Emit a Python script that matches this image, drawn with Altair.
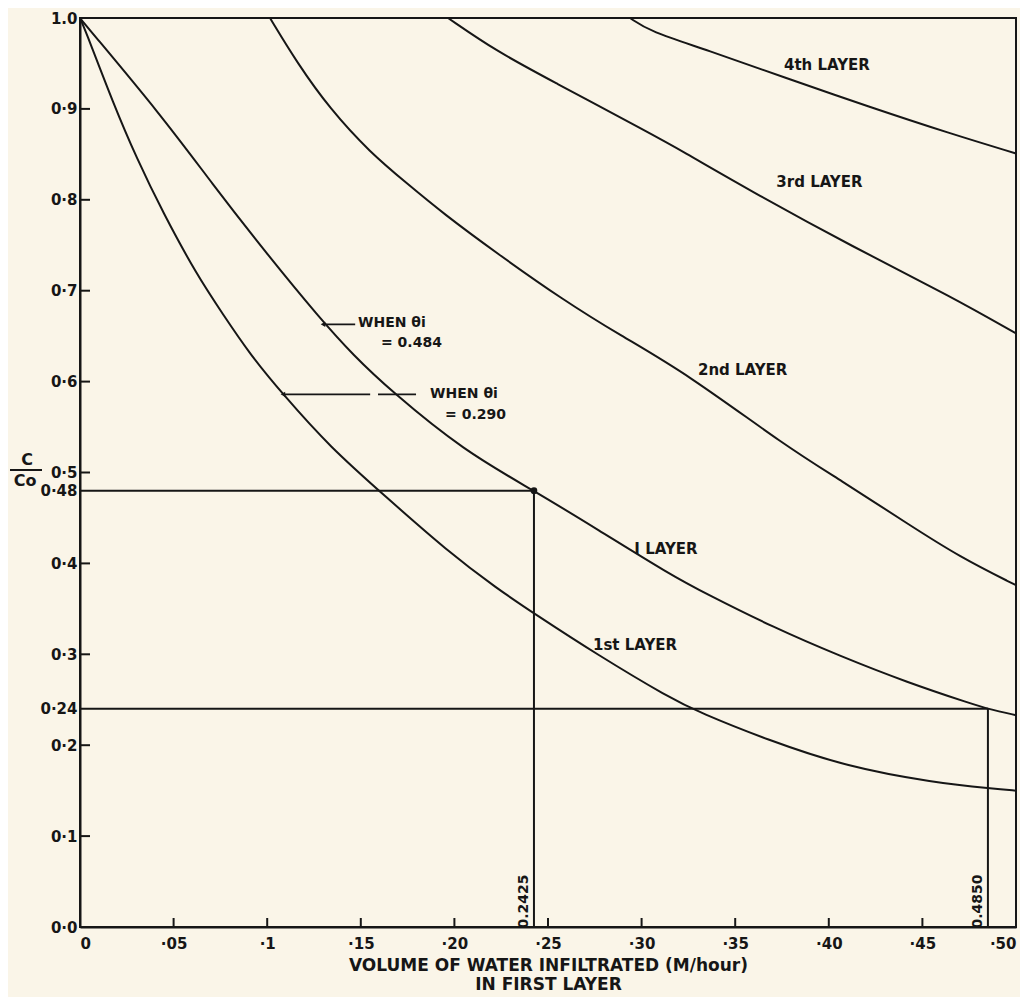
import json
import altair as alt
import pandas as pd

INK = "#161616"
BG = "#FAF5E8"
FONT = "DejaVu Sans"

# ---------------- data ----------------
layer1_x = [0, 0.0043, 0.0176, 0.0304, 0.0443, 0.0625, 0.0764, 0.0908, 0.1084, 0.1335, 0.163,
            0.196, 0.223, 0.2425, 0.276, 0.315, 0.331, 0.367, 0.410, 0.456, 0.488, 0.5]
layer1_y = [1.0, 0.979, 0.907, 0.845, 0.786, 0.717, 0.674, 0.630, 0.586, 0.528, 0.474,
            0.414, 0.372, 0.345, 0.300, 0.252, 0.236, 0.206, 0.176, 0.159, 0.152, 0.15]

layerI_x = [0, 0.0027, 0.0438, 0.0705, 0.100, 0.128, 0.146, 0.166, 0.205, 0.2425, 0.276,
            0.315, 0.335, 0.370, 0.406, 0.442, 0.477, 0.485, 0.5]
layerI_y = [1.0, 0.993, 0.892, 0.818, 0.740, 0.670, 0.629, 0.590, 0.524, 0.48, 0.438,
            0.388, 0.366, 0.330, 0.298, 0.269, 0.245, 0.24, 0.233]

layer2_x = [0.1015, 0.1159, 0.1335, 0.155, 0.1747, 0.194, 0.2228, 0.258, 0.2885, 0.324,
            0.3777, 0.406, 0.4418, 0.470, 0.5]
layer2_y = [1.0, 0.951, 0.900, 0.852, 0.818, 0.785, 0.741, 0.690, 0.651, 0.609,
            0.528, 0.492, 0.444, 0.407, 0.376]

layer3_x = [0.1966, 0.2228, 0.251, 0.3045, 0.3205, 0.358, 0.413, 0.466, 0.5]
layer3_y = [1.0, 0.963, 0.932, 0.873, 0.855, 0.810, 0.748, 0.693, 0.653]

layer4_x = [0.2938, 0.3045, 0.335, 0.3755, 0.422, 0.4647, 0.5]
layer4_y = [1.0, 0.985, 0.965, 0.935, 0.902, 0.873, 0.851]

x_ticks = [0, 0.05, 0.1, 0.15, 0.2, 0.25, 0.3, 0.35, 0.4, 0.45, 0.5]
x_tick_labels = ["0", "·05", "·1", "·15", "·20", "·25", "·30", "·35", "·40", "·45", "·50"]
y_ticks = [0, 0.1, 0.2, 0.24, 0.3, 0.4, 0.48, 0.5, 0.6, 0.7, 0.8, 0.9, 1.0]
y_tick_labels = ["0·0", "0·1", "0·2", "0·24", "0·3", "0·4", "0·48", "0·5", "0·6", "0·7", "0·8", "0·9", "1.0"]
x_inner_ticks = [0.05, 0.1, 0.15, 0.2, 0.25, 0.3, 0.35, 0.4, 0.45]
y_inner_ticks = [0.1, 0.2, 0.3, 0.4, 0.5, 0.6, 0.7, 0.8, 0.9]

# guide lines: (x, x2, y, y2)
guide_x = [0, 0.2425, 0, 0.485]
guide_x2 = [0.2425, 0.2425, 0.485, 0.485]
guide_y = [0.48, 0, 0.24, 0]
guide_y2 = [0.48, 0.48, 0.24, 0.24]
marked_x = [0.2425]
marked_y = [0.48]

layer_labels = ["4th LAYER", "3rd LAYER", "2nd LAYER", "I LAYER", "1st LAYER"]
layer_label_x = [0.399, 0.395, 0.354, 0.313, 0.2965]
layer_label_y = [0.948, 0.820, 0.613, 0.416, 0.310]

note_text = ["WHEN  θi", "= 0.484", "WHEN  θi", "= 0.290"]
note_x = [0.1485, 0.1608, 0.187, 0.195]
note_y = [0.6645, 0.6425, 0.586, 0.563]

arrow_x = [0.1298, 0.1084, 0.1592]
arrow_x2 = [0.147, 0.155, 0.1795]
arrow_y = [0.663, 0.586, 0.586]
arrow_tip_x = [0.1298, 0.1084]
arrow_tip_y = [0.663, 0.586]

vert_text = ["0.2425", "0.4850"]
vert_x = [0.2425, 0.485]
vert_y = [0.028, 0.028]

# ---------------- tables ----------------
curves = pd.concat([
    pd.DataFrame({"x": layer1_x, "y": layer1_y, "layer": "1st"}),
    pd.DataFrame({"x": layerI_x, "y": layerI_y, "layer": "I"}),
    pd.DataFrame({"x": layer2_x, "y": layer2_y, "layer": "2nd"}),
    pd.DataFrame({"x": layer3_x, "y": layer3_y, "layer": "3rd"}),
    pd.DataFrame({"x": layer4_x, "y": layer4_y, "layer": "4th"}),
])

x_expr = f"{json.dumps(x_tick_labels, ensure_ascii=False)}[round(datum.value*20)]"
y_expr = (f"{json.dumps(y_tick_labels, ensure_ascii=False)}"
          f"[indexof({json.dumps([round(v * 100) for v in y_ticks])}, round(datum.value*100))]")

x_axis = alt.Axis(values=x_ticks, labelExpr=x_expr, tickSize=0, grid=False,
                  domainColor=INK, domainWidth=2, labelColor=INK, labelFont=FONT,
                  labelFontSize=15, labelFontWeight="bold", labelPadding=9,
                  title=["VOLUME OF WATER INFILTRATED (M/hour)", "IN FIRST LAYER"],
                  titleFont=FONT, titleFontSize=17, titleFontWeight="bold",
                  titleColor=INK, titlePadding=6, titleLineHeight=19,
                  labelOverlap=False)
y_axis = alt.Axis(values=y_ticks, labelExpr=y_expr, tickSize=0, grid=False,
                  domainColor=INK, domainWidth=2, labelColor=INK, labelFont=FONT,
                  labelFontSize=15, labelFontWeight="bold", labelPadding=3,
                  title=None, labelOverlap=False)

xs = alt.Scale(domain=[0, 0.5], nice=False, zero=False)
ys = alt.Scale(domain=[0, 1.0], nice=False, zero=False)
X = alt.X("x:Q", scale=xs, axis=x_axis)
Y = alt.Y("y:Q", scale=ys, axis=y_axis)

H = 909

lines = alt.Chart(curves).mark_line(color=INK, strokeWidth=2, interpolate="basis").encode(
    x=X, y=Y, detail="layer:N")

guides = alt.Chart(pd.DataFrame({"x": guide_x, "x2": guide_x2, "y": guide_y, "y2": guide_y2})
                   ).mark_rule(color=INK, strokeWidth=2).encode(x=X, x2="x2:Q", y=Y, y2="y2:Q")

dot = alt.Chart(pd.DataFrame({"x": marked_x, "y": marked_y})).mark_circle(
    color=INK, size=45, opacity=1).encode(x=X, y=Y)

yticks = alt.Chart(pd.DataFrame({"y": y_inner_ticks})).mark_rule(color=INK, strokeWidth=2).encode(
    y=Y, x=alt.value(0), x2=alt.value(10))
xticks = alt.Chart(pd.DataFrame({"x": x_inner_ticks})).mark_rule(color=INK, strokeWidth=2).encode(
    x=X, y=alt.value(H), y2=alt.value(H - 9))

layer_text = alt.Chart(pd.DataFrame({"x": layer_label_x, "y": layer_label_y, "t": layer_labels})
                       ).mark_text(font=FONT, fontSize=15, fontWeight="bold", color=INK,
                                   align="center", baseline="middle").encode(x=X, y=Y, text="t:N")

notes = alt.Chart(pd.DataFrame({"x": note_x, "y": note_y, "t": note_text})
                  ).mark_text(font=FONT, fontSize=14, fontWeight="bold", color=INK,
                              align="left", baseline="middle").encode(x=X, y=Y, text="t:N")

arrows = alt.Chart(pd.DataFrame({"x": arrow_x, "x2": arrow_x2, "y": arrow_y})
                   ).mark_rule(color=INK, strokeWidth=1.6).encode(x=X, x2="x2:Q", y=Y)

tips = alt.Chart(pd.DataFrame({"x": arrow_tip_x, "y": arrow_tip_y})).mark_point(
    shape="triangle-left", filled=True, color=INK, size=28, opacity=1).encode(x=X, y=Y)

vtext = alt.Chart(pd.DataFrame({"x": vert_x, "y": vert_y, "t": vert_text})
                  ).mark_text(font=FONT, fontSize=14, fontWeight="bold", color=INK, angle=270,
                              align="center", baseline="middle", dx=0, dy=-10
                              ).encode(x=X, y=Y, text="t:N")

one = pd.DataFrame({"a": [0]})
c_top = alt.Chart(one).mark_text(text="C", font=FONT, fontSize=16, fontWeight="bold",
                                 color=INK, align="center", baseline="middle").encode(
    x=alt.value(-53), y=alt.value(442))
c_bot = alt.Chart(one).mark_text(text="Co", font=FONT, fontSize=16, fontWeight="bold",
                                 color=INK, align="center", baseline="middle").encode(
    x=alt.value(-55), y=alt.value(463))
c_bar = alt.Chart(one).mark_rule(color=INK, strokeWidth=2).encode(
    x=alt.value(-70), x2=alt.value(-38), y=alt.value(452))

chart = alt.layer(
    guides, lines, dot, yticks, xticks, layer_text, notes, arrows, tips, vtext,
    c_top, c_bot, c_bar
).properties(
    width=936, height=H, background=BG,
    padding={"left": 72, "top": 10, "right": 4, "bottom": 70},
    autosize=alt.AutoSizeParams(type="none"),
).configure_view(stroke=INK, strokeWidth=2)

chart.save("out.html", embed_options={"renderer": "svg", "actions": False})
